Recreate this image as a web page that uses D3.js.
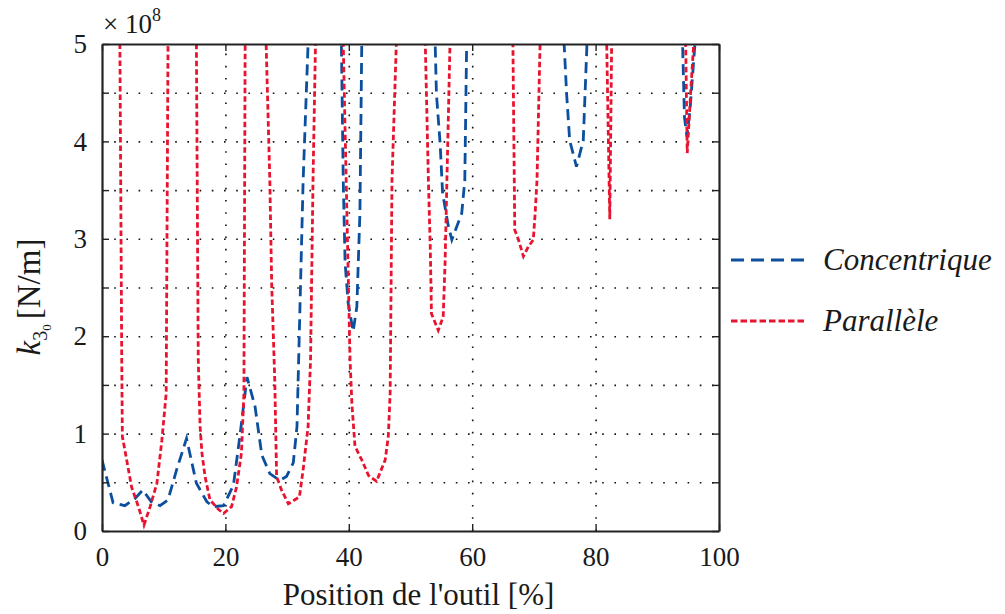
<!DOCTYPE html>
<html>
<head>
<meta charset="utf-8">
<script src="https://cdn.jsdelivr.net/npm/d3@7"></script>
<style>
  html, body { margin: 0; padding: 0; background: #fff; overflow: hidden; }
  svg { display: block; }
  svg text { font-family: "Liberation Serif", "DejaVu Serif", serif; }
</style>
</head>
<body>
<script>
// Position de l'outil [%] and k30 [x 1e8 N/m]
// (values above 5 are off-scale points so the clipped curves leave the top edge)
const concX = [0, 1.8, 3.7, 5.3, 6.6, 8.0, 9.4, 10.7, 12.1, 13.7, 15.3, 17.0, 18.0, 19.7, 21.3, 22.4, 23.5, 24.8, 25.9, 27.2, 28.8, 29.9, 31.0, 31.6, 32.6, 33.4,
  36.0, 38.8, 39.1, 39.4, 39.9, 40.7, 41.3, 41.8, 42.1,
  48.0, 54.0, 54.2, 54.8, 55.2, 56.1, 56.7, 57.7, 58.3, 58.8, 59.1,
  67.0, 74.9, 75.3, 75.8, 76.9, 78.0, 78.6,
  86.0, 94.1, 94.4, 94.8, 95.3, 96.1, 98.0];
const concY = [0.73, 0.29, 0.26, 0.33, 0.42, 0.30, 0.26, 0.32, 0.63, 0.95, 0.49, 0.30, 0.25, 0.26, 0.47, 1.00, 1.58, 1.28, 0.78, 0.59, 0.52, 0.56, 0.70, 1.07, 3.6, 5.0,
  40, 5.0, 3.6, 2.75, 2.34, 2.05, 2.30, 3.26, 5.0,
  40, 5.0, 4.49, 3.98, 3.47, 3.14, 2.99, 3.16, 3.26, 3.6, 5.0,
  40, 5.0, 4.49, 4.01, 3.74, 4.01, 5.0,
  40, 5.0, 4.25, 4.05, 4.32, 5.0, 40];

const parX = [0, 2.9, 3.2, 3.3, 4.0, 4.8, 5.9, 6.8, 7.8, 8.9, 9.7, 10.4, 10.7,
  13.0, 15.3, 15.6, 15.9, 16.2, 16.7, 17.5, 18.9, 19.7, 21.0, 21.8, 22.6, 23.0, 23.2,
  25.0, 26.6, 27.2, 27.5, 28.0, 28.3, 29.1, 30.2, 32.0, 32.6, 33.4, 33.8, 34.2, 34.6,
  37.0, 39.1, 40.2, 40.5, 41.0, 42.1, 43.2, 44.5, 45.9, 46.4, 46.7, 47.0, 47.7,
  50.0, 52.4, 52.9, 53.2, 53.4, 54.5, 55.3, 55.6, 55.9, 56.4,
  61.0, 66.6, 66.9, 67.5, 68.3, 69.1, 69.9, 70.2, 70.5, 71.0,
  76.0, 81.8, 82.3, 82.6,
  88.0, 94.6, 94.85, 95.4, 95.9, 98.0];
const parY = [40, 5.0, 1.76, 0.97, 0.73, 0.45, 0.25, 0.06, 0.25, 0.49, 0.93, 1.41, 5.0,
  40, 5.0, 1.76, 1.07, 0.80, 0.56, 0.32, 0.22, 0.18, 0.25, 0.45, 0.80, 1.41, 5.0,
  40, 5.0, 3.6, 2.54, 1.55, 0.56, 0.42, 0.28, 0.35, 0.63, 1.07, 1.76, 3.6, 5.0,
  40, 5.0, 1.76, 1.31, 0.87, 0.73, 0.57, 0.51, 0.73, 0.97, 1.41, 3.6, 5.0,
  40, 5.0, 3.6, 2.92, 2.23, 2.06, 2.20, 2.75, 3.6, 5.0,
  40, 5.0, 3.09, 2.99, 2.82, 2.92, 2.99, 3.26, 3.6, 5.0,
  40, 5.0, 3.2, 5.0,
  40, 5.0, 3.88, 4.5, 5.0, 40];

const xTicks = [0, 20, 40, 60, 80, 100];
const yTicks = [0, 0.5, 1, 1.5, 2, 2.5, 3, 3.5, 4, 4.5, 5];
const yTickLabels = ["0", "", "1", "", "2", "", "3", "", "4", "", "5"];
const seriesNames = ["Concentrique", "Parallèle"];

const width = 1005;
const height = 614;
const margin = { top: 44, right: 286, bottom: 83, left: 102 };
const innerWidth = width - margin.left - margin.right;
const innerHeight = height - margin.top - margin.bottom;

const colors = {
  conc: "#0b4f9e",
  par: "#e8142f",
  axis: "#222222",
  text: "#1a1a1a",
};
const font = "Liberation Serif";

const svg = d3.select("body")
  .append("svg")
  .attr("width", width)
  .attr("height", height)
  .attr("viewBox", `0 0 ${width} ${height}`);

svg.append("rect").attr("width", width).attr("height", height).attr("fill", "#fff");

const x = d3.scaleLinear().domain([0, 100]).range([0, innerWidth]);
const y = d3.scaleLinear().domain([0, 5]).range([innerHeight, 0]);

const g = svg.append("g").attr("transform", `translate(${margin.left}, ${margin.top})`);

g.append("clipPath").attr("id", "plot-clip")
  .append("rect").attr("width", innerWidth).attr("height", innerHeight);

// dotted grid
g.append("g")
  .attr("transform", `translate(0, ${innerHeight})`)
  .call(d3.axisBottom(x).tickValues(xTicks.slice(1, -1)).tickSize(-innerHeight).tickFormat(""))
  .call((a) => a.select(".domain").remove())
  .call((a) => a.selectAll("text").remove())
  .call((a) => a.selectAll(".tick line")
    .attr("stroke", "#111").attr("stroke-width", 1.6)
    .attr("stroke-dasharray", "1.6,10.6"));

g.append("g")
  .call(d3.axisLeft(y).tickValues(yTicks.slice(1, -1)).tickSize(-innerWidth).tickFormat(""))
  .call((a) => a.select(".domain").remove())
  .call((a) => a.selectAll("text").remove())
  .call((a) => a.selectAll(".tick line")
    .attr("stroke", "#111").attr("stroke-width", 1.6)
    .attr("stroke-dasharray", "1.6,10.6"));

// curves
const line = d3.line().x((d) => x(d[0])).y((d) => y(d[1]));
const curves = [
  { pts: d3.zip(concX, concY), color: colors.conc, dash: "11,6" },
  { pts: d3.zip(parX, parY), color: colors.par, dash: "5.5,3" },
];
const plot = g.append("g").attr("clip-path", "url(#plot-clip)");
curves.forEach((c) => {
  plot.append("path")
    .datum(c.pts)
    .attr("fill", "none")
    .attr("stroke", c.color)
    .attr("stroke-width", 2.8)
    .attr("stroke-dasharray", c.dash)
    .attr("d", line);
});

// axes (inward ticks on all four sides)
function styleAxis(a) {
  a.attr("font-family", null);
  a.select(".domain").attr("stroke", colors.axis).attr("stroke-width", 2.2);
  a.selectAll(".tick line").attr("stroke", colors.axis).attr("stroke-width", 1.4);
  a.selectAll("text").filter(function () { return this.textContent === ""; }).remove();
  a.selectAll("text")
    .attr("fill", colors.text)
    .style("font-family", font)
    .attr("font-size", 27);
}

g.append("g")
  .attr("transform", `translate(0, ${innerHeight})`)
  .call(d3.axisBottom(x).tickValues(xTicks).tickSizeInner(-7).tickSizeOuter(0).tickPadding(16))
  .call(styleAxis);

g.append("g")
  .call(d3.axisTop(x).tickValues(xTicks).tickSizeInner(-7).tickSizeOuter(0).tickFormat(""))
  .call(styleAxis);

g.append("g")
  .call(d3.axisLeft(y).tickValues(yTicks).tickSizeInner(-7).tickSizeOuter(0).tickPadding(15)
    .tickFormat((d, i) => yTickLabels[i]))
  .call(styleAxis);

g.append("g")
  .attr("transform", `translate(${innerWidth}, 0)`)
  .call(d3.axisRight(y).tickValues(yTicks).tickSizeInner(-7).tickSizeOuter(0).tickFormat(""))
  .call(styleAxis);

// exponent
const expo = svg.append("text")
  .attr("x", margin.left + 1)
  .attr("y", 33)
  .attr("fill", colors.text)
  .style("font-family", font)
  .attr("font-size", 27);
expo.append("tspan").text("× 10");
expo.append("tspan").attr("font-size", 18).attr("dy", -12).text("8");

// axis titles
svg.append("text")
  .attr("x", margin.left + innerWidth / 2 + 8)
  .attr("y", 605)
  .attr("text-anchor", "middle")
  .attr("fill", colors.text)
  .style("font-family", font)
  .attr("font-size", 31)
  .text("Position de l'outil [%]");

const yTitle = svg.append("text")
  .attr("transform", `translate(40, 297) rotate(-90)`)
  .attr("text-anchor", "middle")
  .attr("fill", colors.text)
  .style("font-family", font)
  .attr("font-size", 33);
yTitle.append("tspan").attr("font-style", "italic").text("k");
yTitle.append("tspan").attr("font-size", 20).attr("dy", 7).text("3");
yTitle.append("tspan").attr("font-size", 13).attr("dy", 4).text("0");
yTitle.append("tspan").attr("dy", -11).attr("dx", 5).text("[N/m]");

// legend
const legend = svg.append("g").attr("transform", "translate(731, 260)");
curves.forEach((c, i) => {
  const row = legend.append("g").attr("transform", `translate(0, ${i * 61})`);
  row.append("line")
    .attr("x1", 0).attr("x2", 76)
    .attr("stroke", c.color)
    .attr("stroke-width", 2.8)
    .attr("stroke-dasharray", i === 0 ? "13,7" : "6.5,3");
  row.append("text")
    .attr("x", 92)
    .attr("y", 10)
    .attr("fill", colors.text)
    .style("font-family", font)
    .attr("font-style", "italic")
    .attr("font-size", 31)
    .text(seriesNames[i]);
});
</script>
</body>
</html>
